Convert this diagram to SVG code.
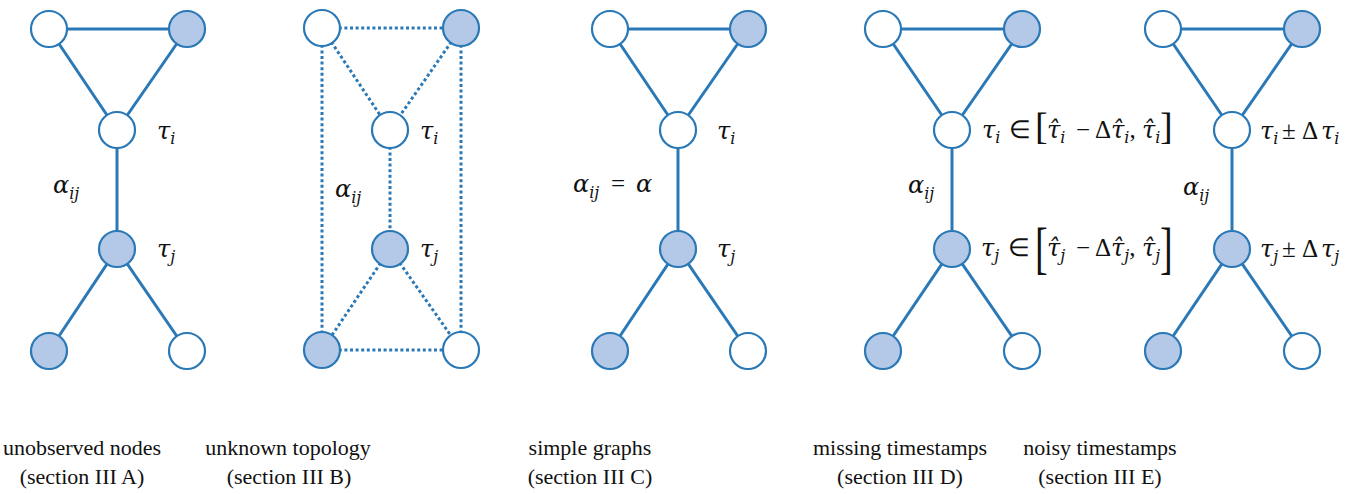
<svg xmlns="http://www.w3.org/2000/svg" width="1359" height="494" viewBox="0 0 1359 494">
<style>
.e{stroke:#2a79b6;stroke-width:3;fill:none}
.d{stroke:#2a79b6;stroke-width:3;fill:none;stroke-dasharray:3 2.6}
.n{stroke:#2a79b6;stroke-width:2.2;fill:#ffffff}
.f{stroke:#2a79b6;stroke-width:2.2;fill:#b4c8e7}
.m{font-family:"DejaVu Serif",serif;font-style:italic;font-size:24px;fill:#111}
.r{font-family:"Liberation Serif",serif;font-style:normal;font-size:25px;fill:#111}
.s{font-size:16px}
.b{font-family:"Liberation Serif",serif;font-size:38px;fill:#111}
.cap{font-family:"Liberation Serif",serif;font-size:22px;fill:#111;text-anchor:middle}
</style>
<rect width="1359" height="494" fill="#ffffff"/>

<g id="connectors">
  <line class="e" x1="49" y1="29" x2="187" y2="29"/>
  <line class="e" x1="49" y1="29" x2="117" y2="130"/>
  <line class="e" x1="187" y1="29" x2="117" y2="130"/>
  <line class="e" x1="117" y1="130" x2="117" y2="249"/>
  <line class="e" x1="117" y1="249" x2="49" y2="351"/>
  <line class="e" x1="117" y1="249" x2="187" y2="351"/>
  <line class="d" x1="322" y1="28" x2="461" y2="28"/>
  <line class="d" x1="322" y1="28" x2="390" y2="130"/>
  <line class="d" x1="461" y1="28" x2="390" y2="130"/>
  <line class="d" x1="390" y1="130" x2="390" y2="249"/>
  <line class="d" x1="390" y1="249" x2="322" y2="350"/>
  <line class="d" x1="390" y1="249" x2="461" y2="350"/>
  <line class="d" x1="322" y1="28" x2="322" y2="350"/>
  <line class="d" x1="461" y1="28" x2="461" y2="350"/>
  <line class="d" x1="322" y1="350" x2="461" y2="350"/>
  <line class="e" x1="610" y1="29" x2="748" y2="29"/>
  <line class="e" x1="610" y1="29" x2="678" y2="130"/>
  <line class="e" x1="748" y1="29" x2="678" y2="130"/>
  <line class="e" x1="678" y1="130" x2="678" y2="249"/>
  <line class="e" x1="678" y1="249" x2="610" y2="351"/>
  <line class="e" x1="678" y1="249" x2="748" y2="351"/>
  <line class="e" x1="883" y1="29" x2="1022" y2="29"/>
  <line class="e" x1="883" y1="29" x2="952" y2="130"/>
  <line class="e" x1="1022" y1="29" x2="952" y2="130"/>
  <line class="e" x1="952" y1="130" x2="952" y2="249"/>
  <line class="e" x1="952" y1="249" x2="883" y2="351"/>
  <line class="e" x1="952" y1="249" x2="1022" y2="351"/>
  <line class="e" x1="1163" y1="29" x2="1302" y2="29"/>
  <line class="e" x1="1163" y1="29" x2="1232" y2="130"/>
  <line class="e" x1="1302" y1="29" x2="1232" y2="130"/>
  <line class="e" x1="1232" y1="130" x2="1232" y2="249"/>
  <line class="e" x1="1232" y1="249" x2="1163" y2="351"/>
  <line class="e" x1="1232" y1="249" x2="1302" y2="351"/>
</g>

<!-- panel A -->
<g id="a-top-left"><circle class="n" cx="49" cy="29" r="18"/></g>
<g id="a-top-right"><circle class="f" cx="187" cy="29" r="18"/></g>
<g id="a-i"><circle class="n" cx="117" cy="130" r="18"/>
  <text class="m" x="157" y="139">τ<tspan class="s" dy="5">i</tspan></text></g>
<g id="a-j"><circle class="f" cx="117" cy="249" r="18"/>
  <text class="m" x="157" y="257">τ<tspan class="s" dy="5">j</tspan></text></g>
<g id="a-bottom-left"><circle class="f" cx="49" cy="351" r="18"/></g>
<g id="a-bottom-right"><circle class="n" cx="187" cy="351" r="18"/></g>
<text class="m" x="53" y="193">α<tspan class="s" dy="6">ij</tspan></text>

<!-- panel B -->
<g id="b-top-left"><circle class="n" cx="322" cy="28" r="18"/></g>
<g id="b-top-right"><circle class="f" cx="461" cy="28" r="18"/></g>
<g id="b-i"><circle class="n" cx="390" cy="130" r="18"/>
  <text class="m" x="420" y="139">τ<tspan class="s" dy="5">i</tspan></text></g>
<g id="b-j"><circle class="f" cx="390" cy="249" r="18"/>
  <text class="m" x="420" y="257">τ<tspan class="s" dy="5">j</tspan></text></g>
<g id="b-bottom-left"><circle class="f" cx="322" cy="350" r="18"/></g>
<g id="b-bottom-right"><circle class="n" cx="461" cy="350" r="18"/></g>
<text class="m" x="335" y="197">α<tspan class="s" dy="6">ij</tspan></text>

<!-- panel C -->
<g id="c-top-left"><circle class="n" cx="610" cy="29" r="18"/></g>
<g id="c-top-right"><circle class="f" cx="748" cy="29" r="18"/></g>
<g id="c-i"><circle class="n" cx="678" cy="130" r="18"/>
  <text class="m" x="717" y="139">τ<tspan class="s" dy="5">i</tspan></text></g>
<g id="c-j"><circle class="f" cx="678" cy="249" r="18"/>
  <text class="m" x="717" y="257">τ<tspan class="s" dy="5">j</tspan></text></g>
<g id="c-bottom-left"><circle class="f" cx="610" cy="351" r="18"/></g>
<g id="c-bottom-right"><circle class="n" cx="748" cy="351" r="18"/></g>
<text class="m" x="573" y="192">α<tspan class="s" dy="6">ij</tspan><tspan class="r" x="611" dy="-6">=</tspan><tspan x="636">α</tspan></text>

<!-- panel D -->
<g id="d-top-left"><circle class="n" cx="883" cy="29" r="18"/></g>
<g id="d-top-right"><circle class="f" cx="1022" cy="29" r="18"/></g>
<g id="d-i"><circle class="n" cx="952" cy="130" r="18"/>
  <text class="m" x="982" y="138">τ<tspan class="s" dy="5">i</tspan><tspan class="r" x="1009" dy="-5">∈</tspan><tspan x="1047">τ̂</tspan><tspan class="s" dy="5">i</tspan><tspan class="r" x="1076" dy="-5">−</tspan><tspan class="r" x="1095">Δ</tspan><tspan x="1111">τ̂</tspan><tspan class="s" dy="5">i</tspan><tspan class="r" dy="-5">,</tspan><tspan x="1142">τ̂</tspan><tspan class="s" dy="5">i</tspan></text>
  <text class="b" transform="translate(1035,139)">[</text>
  <text class="b" transform="translate(1160,139)">]</text></g>
<g id="d-j"><circle class="f" cx="952" cy="249" r="18"/>
  <text class="m" x="981" y="256">τ<tspan class="s" dy="5">j</tspan><tspan class="r" x="1008" dy="-5">∈</tspan><tspan x="1047">τ̂</tspan><tspan class="s" dy="5">j</tspan><tspan class="r" x="1076" dy="-5">−</tspan><tspan class="r" x="1095">Δ</tspan><tspan x="1111">τ̂</tspan><tspan class="s" dy="5">j</tspan><tspan class="r" dy="-5">,</tspan><tspan x="1142">τ̂</tspan><tspan class="s" dy="5">j</tspan></text>
  <text class="b" transform="translate(1035,267) scale(1,1.5)">[</text>
  <text class="b" transform="translate(1160,267) scale(1,1.5)">]</text></g>
<g id="d-bottom-left"><circle class="f" cx="883" cy="351" r="18"/></g>
<g id="d-bottom-right"><circle class="n" cx="1022" cy="351" r="18"/></g>
<text class="m" x="908" y="193">α<tspan class="s" dy="6">ij</tspan></text>

<!-- panel E -->
<g id="e-top-left"><circle class="n" cx="1163" cy="29" r="18"/></g>
<g id="e-top-right"><circle class="f" cx="1302" cy="29" r="18"/></g>
<g id="e-i"><circle class="n" cx="1232" cy="130" r="18"/>
  <text class="m" x="1260" y="139">τ<tspan class="s" dy="5">i</tspan><tspan class="r" x="1282" dy="-5">±</tspan><tspan class="r" x="1302">Δ</tspan><tspan x="1321">τ</tspan><tspan class="s" dy="5">i</tspan></text></g>
<g id="e-j"><circle class="f" cx="1232" cy="249" r="18"/>
  <text class="m" x="1260" y="257">τ<tspan class="s" dy="5">j</tspan><tspan class="r" x="1282" dy="-5">±</tspan><tspan class="r" x="1302">Δ</tspan><tspan x="1321">τ</tspan><tspan class="s" dy="5">j</tspan></text></g>
<g id="e-bottom-left"><circle class="f" cx="1163" cy="351" r="18"/></g>
<g id="e-bottom-right"><circle class="n" cx="1302" cy="351" r="18"/></g>
<text class="m" x="1183" y="195">α<tspan class="s" dy="6">ij</tspan></text>

<g id="captions">
  <text class="cap" x="82" y="455">unobserved nodes</text>
  <text class="cap" x="82" y="484">(section III A)</text>
  <text class="cap" x="288" y="455">unknown topology</text>
  <text class="cap" x="289" y="484">(section III B)</text>
  <text class="cap" x="590" y="455">simple graphs</text>
  <text class="cap" x="590" y="484">(section III C)</text>
  <text class="cap" x="900" y="455">missing timestamps</text>
  <text class="cap" x="900" y="484">(section III D)</text>
  <text class="cap" x="1100" y="455">noisy timestamps</text>
  <text class="cap" x="1100" y="484">(section III E)</text>
</g>
</svg>
